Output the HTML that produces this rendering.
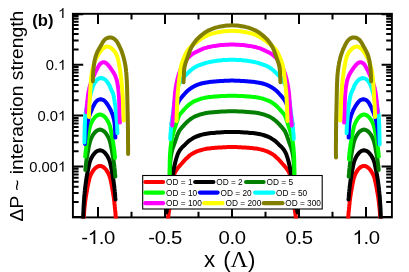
<!DOCTYPE html>
<html lang="en"><head><meta charset="utf-8"><title>OD chart</title>
<style>
html,body{margin:0;padding:0;background:#fff;}
body{width:409px;height:272px;overflow:hidden;}
svg{display:block;}
text{font-family:"Liberation Sans",sans-serif;fill:#000;}
.ser{font-family:"Liberation Serif",serif;}
</style></head><body>
<svg width="409" height="272" viewBox="0 0 409 272">
<rect x="0" y="0" width="409" height="272" fill="#fff"/>
<defs><clipPath id="cp"><rect x="71.9" y="12.8" width="321" height="205.7"/></clipPath></defs>
<g stroke="#000" stroke-width="1.9" fill="none" stroke-linecap="butt">
<rect x="72.9" y="13.8" width="319" height="203.6"/>
<path stroke-width="2" d="M98 13.8 v10.3M98 217.4 v-10.3M131.5 13.8 v5.7M131.5 217.4 v-5.7M165 13.8 v10.3M165 217.4 v-10.3M198.5 13.8 v5.7M198.5 217.4 v-5.7M232 13.8 v10.3M232 217.4 v-10.3M265.5 13.8 v5.7M265.5 217.4 v-5.7M299 13.8 v10.3M299 217.4 v-10.3M332.5 13.8 v5.7M332.5 217.4 v-5.7M366 13.8 v10.3M366 217.4 v-10.3M72.9 64.7 h10.3M391.9 64.7 h-10.3M72.9 49.38 h5.7M391.9 49.38 h-5.7M72.9 40.41 h5.7M391.9 40.41 h-5.7M72.9 34.06 h5.7M391.9 34.06 h-5.7M72.9 29.12 h5.7M391.9 29.12 h-5.7M72.9 25.09 h5.7M391.9 25.09 h-5.7M72.9 21.68 h5.7M391.9 21.68 h-5.7M72.9 18.73 h5.7M391.9 18.73 h-5.7M72.9 16.13 h5.7M391.9 16.13 h-5.7M72.9 115.6 h10.3M391.9 115.6 h-10.3M72.9 100.28 h5.7M391.9 100.28 h-5.7M72.9 91.31 h5.7M391.9 91.31 h-5.7M72.9 84.96 h5.7M391.9 84.96 h-5.7M72.9 80.02 h5.7M391.9 80.02 h-5.7M72.9 75.99 h5.7M391.9 75.99 h-5.7M72.9 72.58 h5.7M391.9 72.58 h-5.7M72.9 69.63 h5.7M391.9 69.63 h-5.7M72.9 67.03 h5.7M391.9 67.03 h-5.7M72.9 166.5 h10.3M391.9 166.5 h-10.3M72.9 151.18 h5.7M391.9 151.18 h-5.7M72.9 142.21 h5.7M391.9 142.21 h-5.7M72.9 135.86 h5.7M391.9 135.86 h-5.7M72.9 130.92 h5.7M391.9 130.92 h-5.7M72.9 126.89 h5.7M391.9 126.89 h-5.7M72.9 123.48 h5.7M391.9 123.48 h-5.7M72.9 120.53 h5.7M391.9 120.53 h-5.7M72.9 117.93 h5.7M391.9 117.93 h-5.7M72.9 202.08 h5.7M391.9 202.08 h-5.7M72.9 193.11 h5.7M391.9 193.11 h-5.7M72.9 186.76 h5.7M391.9 186.76 h-5.7M72.9 181.82 h5.7M391.9 181.82 h-5.7M72.9 177.79 h5.7M391.9 177.79 h-5.7M72.9 174.38 h5.7M391.9 174.38 h-5.7M72.9 171.43 h5.7M391.9 171.43 h-5.7M72.9 168.83 h5.7M391.9 168.83 h-5.7M72.9 14.25 h10.3M391.9 14.25 h-10.3M72.9 216.95 h10.3M391.9 216.95 h-10.3"/>
</g>
<g clip-path="url(#cp)" fill="none" stroke-width="4" stroke-linejoin="round" stroke-linecap="round">
<path stroke="#ff0000" d="M83.4 223.2 L83.5 221.7 L83.6 220.1 L83.6 218.6 L83.7 217.1 L83.8 215.7 L84.0 214.2 L84.1 212.7 L84.2 211.2 L84.3 209.7 L84.5 208.2 L84.6 206.7 L84.8 205.2 L84.9 203.7 L85.1 202.2 L85.3 200.7 L85.5 199.2 L85.7 197.7 L86.0 196.2 L86.2 194.7 L86.5 193.3 L86.7 191.8 L87.0 190.3 L87.2 188.8 L87.5 187.4 L87.8 185.9 L88.1 184.4 L88.4 182.9 L88.7 181.5 L89.1 180.0 L89.4 178.5 L89.8 177.1 L90.4 175.7 L91.0 174.3 L91.7 173.0 L92.5 171.7 L93.3 170.4 L94.2 169.3 L95.3 168.2 L96.4 167.2 L97.7 166.5 L99.2 166.0 L100.7 166.0 L102.1 166.4 L103.4 167.1 L104.6 168.1 L105.6 169.1 L106.5 170.3 L107.3 171.6 L108.1 172.9 L108.7 174.3 L109.3 175.6 L109.8 177.0 L110.3 178.5 L110.6 180.0 L110.9 181.4 L111.2 182.9 L111.5 184.4 L111.8 185.8 L112.1 187.3 L112.3 188.8 L112.6 190.3 L112.9 191.8 L113.1 193.2 L113.3 194.7 L113.6 196.2 L113.8 197.7 L114.0 199.2 L114.2 200.7 L114.4 202.2 L114.5 203.7 L114.7 205.2 L114.8 206.7 L115.0 208.2 L115.1 209.7 L115.3 211.2 L115.4 212.7 L115.5 214.1 L115.6 215.6 L115.7 217.1 L115.8 218.6 L115.9 220.1 L115.9 221.7 L116.0 223.2 M167.7 223.0 L167.8 221.5 L167.9 220.0 L168.0 218.5 L168.2 217.0 L168.4 215.5 L168.6 214.0 L168.8 212.5 L169.0 211.0 L169.3 209.5 L169.5 208.0 L169.8 206.6 L170.1 205.1 L170.3 203.6 L170.5 202.1 L170.8 200.6 L171.0 199.1 L171.2 197.6 L171.4 196.1 L171.6 194.6 L171.7 193.1 L171.9 191.6 L172.0 190.1 L172.1 188.6 L172.2 187.1 L172.3 185.6 L172.4 184.1 L172.5 182.6 L172.6 181.1 L172.9 179.6 L173.1 178.1 L173.5 176.6 L173.9 175.2 L174.4 173.8 L175.0 172.4 L175.7 171.1 L176.5 169.8 L177.4 168.6 L178.3 167.4 L179.3 166.2 L180.3 165.1 L181.3 164.0 L182.3 162.9 L183.3 161.7 L184.3 160.6 L185.3 159.5 L186.4 158.4 L187.5 157.4 L188.6 156.4 L189.8 155.4 L191.0 154.6 L192.3 153.7 L193.6 153.0 L194.9 152.3 L196.3 151.7 L197.7 151.1 L199.1 150.6 L200.6 150.2 L202.0 149.8 L203.5 149.4 L205.0 149.1 L206.4 148.8 L207.9 148.6 L209.4 148.4 L210.9 148.2 L212.4 148.1 L213.9 148.0 L215.4 147.8 L216.9 147.7 L218.4 147.6 L219.9 147.5 L221.5 147.4 L223.0 147.3 L224.5 147.2 L226.0 147.2 L227.5 147.1 L229.0 147.1 L230.5 147.0 L232.0 147.0 L233.5 147.0 L235.0 147.1 L236.5 147.1 L238.0 147.2 L239.5 147.2 L241.0 147.3 L242.5 147.4 L244.1 147.5 L245.6 147.6 L247.1 147.7 L248.6 147.8 L250.1 148.0 L251.6 148.1 L253.1 148.2 L254.6 148.4 L256.1 148.6 L257.6 148.8 L259.0 149.1 L260.5 149.4 L262.0 149.8 L263.4 150.2 L264.9 150.6 L266.3 151.1 L267.7 151.7 L269.1 152.3 L270.4 153.0 L271.7 153.7 L273.0 154.6 L274.2 155.4 L275.4 156.4 L276.5 157.4 L277.6 158.4 L278.7 159.5 L279.7 160.6 L280.7 161.7 L281.7 162.9 L282.7 164.0 L283.7 165.1 L284.7 166.2 L285.7 167.4 L286.6 168.6 L287.5 169.8 L288.3 171.1 L289.0 172.4 L289.6 173.8 L290.1 175.2 L290.5 176.6 L290.9 178.1 L291.1 179.6 L291.4 181.1 L291.5 182.6 L291.6 184.1 L291.7 185.6 L291.8 187.1 L291.9 188.6 L292.0 190.1 L292.1 191.6 L292.3 193.1 L292.4 194.6 L292.6 196.1 L292.8 197.6 L293.0 199.1 L293.2 200.6 L293.5 202.1 L293.7 203.6 L293.9 205.1 L294.2 206.6 L294.5 208.0 L294.7 209.5 L295.0 211.0 L295.2 212.5 L295.4 214.0 L295.6 215.5 L295.8 217.0 L296.0 218.5 L296.1 220.0 L296.2 221.5 L296.3 223.0 M348.0 223.2 L348.1 221.7 L348.1 220.1 L348.2 218.6 L348.3 217.1 L348.4 215.6 L348.5 214.1 L348.6 212.7 L348.7 211.2 L348.9 209.7 L349.0 208.2 L349.2 206.7 L349.3 205.2 L349.5 203.7 L349.6 202.2 L349.8 200.7 L350.0 199.2 L350.2 197.7 L350.4 196.2 L350.7 194.7 L350.9 193.2 L351.1 191.8 L351.4 190.3 L351.7 188.8 L351.9 187.3 L352.2 185.8 L352.5 184.4 L352.8 182.9 L353.1 181.4 L353.4 180.0 L353.7 178.5 L354.2 177.0 L354.7 175.6 L355.3 174.3 L355.9 172.9 L356.7 171.6 L357.5 170.3 L358.4 169.1 L359.4 168.1 L360.6 167.1 L361.9 166.4 L363.3 166.0 L364.8 166.0 L366.3 166.5 L367.6 167.2 L368.7 168.2 L369.8 169.3 L370.7 170.4 L371.5 171.7 L372.3 173.0 L373.0 174.3 L373.6 175.7 L374.2 177.1 L374.6 178.5 L374.9 180.0 L375.3 181.5 L375.6 182.9 L375.9 184.4 L376.2 185.9 L376.5 187.4 L376.8 188.8 L377.0 190.3 L377.3 191.8 L377.5 193.3 L377.8 194.7 L378.0 196.2 L378.3 197.7 L378.5 199.2 L378.7 200.7 L378.9 202.2 L379.1 203.7 L379.2 205.2 L379.4 206.7 L379.5 208.2 L379.7 209.7 L379.8 211.2 L379.9 212.7 L380.0 214.2 L380.2 215.7 L380.3 217.1 L380.4 218.6 L380.4 220.1 L380.5 221.7 L380.6 223.2"/>
<path stroke="#000000" d="M83.0 223.4 L83.1 222.1 L83.1 220.6 L83.1 219.1 L83.2 217.6 L83.2 216.0 L83.3 214.5 L83.3 213.0 L83.4 211.5 L83.5 210.0 L83.5 208.5 L83.6 207.0 L83.7 205.5 L83.8 204.0 L83.9 202.5 L84.0 201.0 L84.1 199.5 L84.2 198.0 L84.3 196.5 L84.4 195.0 L84.6 193.5 L84.7 192.0 L84.9 190.5 L85.0 189.0 L85.2 187.5 L85.4 186.0 L85.6 184.5 L85.8 183.0 L86.0 181.5 L86.2 180.0 L86.4 178.5 L86.7 177.0 L86.9 175.5 L87.2 174.0 L87.5 172.6 L87.8 171.1 L88.1 169.6 L88.4 168.1 L88.7 166.6 L89.0 165.2 L89.3 163.7 L89.7 162.2 L90.2 160.8 L90.7 159.4 L91.4 158.0 L92.1 156.7 L92.9 155.4 L93.8 154.2 L94.7 153.1 L95.8 152.0 L97.0 151.1 L98.4 150.6 L99.9 150.3 L101.4 150.5 L102.8 151.1 L104.0 152.0 L105.1 153.0 L106.0 154.2 L106.9 155.4 L107.7 156.7 L108.4 158.1 L109.0 159.4 L109.6 160.8 L110.0 162.3 L110.4 163.7 L110.7 165.2 L111.0 166.7 L111.3 168.2 L111.6 169.6 L111.9 171.1 L112.1 172.6 L112.4 174.1 L112.7 175.6 L112.9 177.1 L113.1 178.6 L113.4 180.1 L113.6 181.5 L113.8 183.0 L114.0 184.5 L114.2 186.0 L114.4 187.5 L114.5 189.0 L114.7 190.5 L114.8 192.0 L115.0 193.5 L115.1 195.0 L115.2 196.5 L115.3 198.0 L115.5 199.5 M166.4 212.4 L166.7 210.9 L166.9 209.4 L167.2 208.0 L167.4 206.5 L167.6 205.0 L167.8 203.5 L168.1 202.0 L168.3 200.5 L168.5 199.0 L168.7 197.6 L169.0 196.1 L169.2 194.6 L169.4 193.1 L169.7 191.6 L170.0 190.2 L170.2 188.7 L170.5 187.2 L170.8 185.7 L171.1 184.2 L171.4 182.8 L171.7 181.3 L171.9 179.8 L172.2 178.4 L172.5 176.9 L172.8 175.4 L173.0 173.9 L173.3 172.4 L173.5 171.0 L173.7 169.5 L174.0 168.0 L174.3 166.5 L174.6 165.0 L175.0 163.6 L175.3 162.1 L175.7 160.7 L176.1 159.2 L176.5 157.8 L177.0 156.4 L177.5 154.9 L178.0 153.6 L178.7 152.2 L179.4 150.9 L180.3 149.6 L181.2 148.5 L182.2 147.3 L183.3 146.3 L184.4 145.3 L185.5 144.2 L186.5 143.2 L187.6 142.1 L188.7 141.1 L189.9 140.2 L191.2 139.4 L192.4 138.6 L193.7 137.8 L195.1 137.1 L196.4 136.5 L197.8 136.0 L199.3 135.5 L200.7 135.0 L202.1 134.6 L203.6 134.3 L205.1 134.0 L206.5 133.7 L208.0 133.5 L209.5 133.3 L211.0 133.1 L212.5 133.0 L214.0 132.9 L215.5 132.7 L217.0 132.6 L218.5 132.5 L220.0 132.4 L221.5 132.3 L223.0 132.2 L224.5 132.1 L226.0 132.1 L227.5 132.0 L229.0 132.0 L230.5 131.9 L232.0 131.9 L233.5 131.9 L235.0 132.0 L236.5 132.0 L238.0 132.1 L239.5 132.1 L241.0 132.2 L242.5 132.3 L244.0 132.4 L245.5 132.5 L247.0 132.6 L248.5 132.7 L250.0 132.9 L251.5 133.0 L253.0 133.1 L254.5 133.3 L256.0 133.5 L257.5 133.7 L258.9 134.0 L260.4 134.3 L261.9 134.6 L263.3 135.0 L264.7 135.5 L266.2 136.0 L267.6 136.5 L268.9 137.1 L270.3 137.8 L271.6 138.6 L272.8 139.4 L274.1 140.2 L275.3 141.1 L276.4 142.1 L277.5 143.2 L278.5 144.2 L279.6 145.3 L280.7 146.3 L281.8 147.3 L282.8 148.5 L283.7 149.6 L284.6 150.9 L285.3 152.2 L286.0 153.6 L286.5 154.9 L287.0 156.4 L287.5 157.8 L287.9 159.2 L288.3 160.7 L288.7 162.1 L289.0 163.6 L289.4 165.0 L289.7 166.5 L290.0 168.0 L290.3 169.5 L290.5 171.0 L290.7 172.4 L291.0 173.9 L291.2 175.4 L291.5 176.9 L291.8 178.4 L292.1 179.8 L292.3 181.3 L292.6 182.8 L292.9 184.2 L293.2 185.7 L293.5 187.2 L293.8 188.7 L294.0 190.2 L294.3 191.6 L294.6 193.1 L294.8 194.6 L295.0 196.1 L295.3 197.6 L295.5 199.0 L295.7 200.5 L295.9 202.0 L296.2 203.5 L296.4 205.0 L296.6 206.5 L296.8 208.0 L297.1 209.4 L297.3 210.9 L297.6 212.4 M348.5 199.5 L348.7 198.0 L348.8 196.5 L348.9 195.0 L349.0 193.5 L349.2 192.0 L349.3 190.5 L349.5 189.0 L349.6 187.5 L349.8 186.0 L350.0 184.5 L350.2 183.0 L350.4 181.5 L350.6 180.1 L350.9 178.6 L351.1 177.1 L351.3 175.6 L351.6 174.1 L351.9 172.6 L352.1 171.1 L352.4 169.6 L352.7 168.2 L353.0 166.7 L353.3 165.2 L353.6 163.7 L354.0 162.3 L354.4 160.8 L355.0 159.4 L355.6 158.1 L356.3 156.7 L357.1 155.4 L358.0 154.2 L358.9 153.0 L360.0 152.0 L361.2 151.1 L362.6 150.5 L364.1 150.3 L365.6 150.6 L367.0 151.1 L368.2 152.0 L369.3 153.1 L370.2 154.2 L371.1 155.4 L371.9 156.7 L372.6 158.0 L373.3 159.4 L373.8 160.8 L374.3 162.2 L374.7 163.7 L375.0 165.2 L375.3 166.6 L375.6 168.1 L375.9 169.6 L376.2 171.1 L376.5 172.6 L376.8 174.0 L377.1 175.5 L377.3 177.0 L377.6 178.5 L377.8 180.0 L378.0 181.5 L378.2 183.0 L378.4 184.5 L378.6 186.0 L378.8 187.5 L379.0 189.0 L379.1 190.5 L379.3 192.0 L379.4 193.5 L379.6 195.0 L379.7 196.5 L379.8 198.0 L379.9 199.5 L380.0 201.0 L380.1 202.5 L380.2 204.0 L380.3 205.5 L380.4 207.0 L380.5 208.5 L380.5 210.0 L380.6 211.5 L380.7 213.0 L380.7 214.5 L380.8 216.0 L380.8 217.6 L380.9 219.1 L380.9 220.6 L380.9 222.1 L381.0 223.4"/>
<path stroke="#007f00" d="M85.3 169.9 L85.5 168.3 L85.6 166.8 L85.8 165.3 L86.0 163.8 L86.2 162.3 L86.4 160.8 L86.6 159.3 L86.9 157.8 L87.1 156.3 L87.4 154.8 L87.6 153.3 L87.9 151.9 L88.2 150.4 L88.4 148.9 L88.7 147.4 L89.0 145.9 L89.3 144.4 L89.7 142.9 L90.0 141.5 L90.5 140.0 L91.1 138.6 L91.7 137.2 L92.4 135.9 L93.2 134.6 L94.1 133.4 L95.1 132.2 L96.2 131.2 L97.4 130.3 L98.8 129.8 L100.3 129.6 L101.8 130.0 L103.2 130.7 L104.3 131.6 L105.4 132.7 L106.3 133.9 L107.1 135.2 L107.9 136.5 L108.6 137.8 L109.2 139.2 L109.7 140.7 L110.1 142.1 L110.5 143.6 L110.8 145.1 L111.1 146.5 L111.4 148.0 L111.7 149.5 L112.0 151.0 L112.2 152.5 L112.5 154.0 L112.8 155.5 L113.0 157.0 L113.2 158.5 L113.5 160.0 L113.7 161.5 L113.9 163.0 L114.1 164.5 L114.3 166.0 L114.4 167.5 L114.6 169.0 L114.8 170.5 L114.9 172.0 L115.0 173.5 L115.2 175.0 L115.3 176.6 M169.7 180.0 L169.7 178.5 L169.8 177.0 L169.8 175.5 L169.8 174.0 L169.9 172.5 L169.9 171.0 L170.0 169.5 L170.0 168.0 L170.1 166.5 L170.1 165.0 L170.2 163.5 L170.3 162.0 L170.4 160.5 L170.6 159.0 L170.7 157.5 L170.9 156.0 L171.2 154.5 L171.5 153.0 L171.8 151.6 L172.2 150.1 L172.6 148.7 L173.1 147.2 L173.6 145.8 L174.1 144.4 L174.6 143.0 L175.1 141.6 L175.6 140.2 L176.1 138.7 L176.6 137.3 L177.0 135.9 L177.6 134.5 L178.2 133.1 L178.8 131.7 L179.6 130.5 L180.5 129.2 L181.4 128.1 L182.4 126.9 L183.4 125.8 L184.4 124.7 L185.4 123.6 L186.5 122.5 L187.6 121.5 L188.7 120.5 L189.9 119.6 L191.1 118.7 L192.4 117.9 L193.7 117.1 L195.0 116.4 L196.4 115.8 L197.8 115.3 L199.2 114.8 L200.7 114.4 L202.1 114.0 L203.6 113.6 L205.0 113.3 L206.5 113.0 L208.0 112.8 L209.5 112.6 L211.0 112.4 L212.5 112.3 L214.0 112.2 L215.5 112.0 L217.0 111.9 L218.5 111.8 L220.0 111.7 L221.5 111.6 L223.0 111.5 L224.5 111.4 L226.0 111.4 L227.5 111.3 L229.0 111.3 L230.5 111.2 L232.0 111.2 L233.5 111.2 L235.0 111.3 L236.5 111.3 L238.0 111.4 L239.5 111.4 L241.0 111.5 L242.5 111.6 L244.0 111.7 L245.5 111.8 L247.0 111.9 L248.5 112.0 L250.0 112.2 L251.5 112.3 L253.0 112.4 L254.5 112.6 L256.0 112.8 L257.5 113.0 L259.0 113.3 L260.4 113.6 L261.9 114.0 L263.3 114.4 L264.8 114.8 L266.2 115.3 L267.6 115.8 L269.0 116.4 L270.3 117.1 L271.6 117.9 L272.9 118.7 L274.1 119.6 L275.3 120.5 L276.4 121.5 L277.5 122.5 L278.6 123.6 L279.6 124.7 L280.6 125.8 L281.6 126.9 L282.6 128.1 L283.5 129.2 L284.4 130.5 L285.2 131.7 L285.8 133.1 L286.4 134.5 L287.0 135.9 L287.4 137.3 L287.9 138.7 L288.4 140.2 L288.9 141.6 L289.4 143.0 L289.9 144.4 L290.4 145.8 L290.9 147.2 L291.4 148.7 L291.8 150.1 L292.2 151.6 L292.5 153.0 L292.8 154.5 L293.1 156.0 L293.3 157.5 L293.4 159.0 L293.6 160.5 L293.7 162.0 L293.8 163.5 L293.9 165.0 L293.9 166.5 L294.0 168.0 L294.0 169.5 L294.1 171.0 L294.1 172.5 L294.2 174.0 L294.2 175.5 L294.2 177.0 L294.3 178.5 L294.3 180.0 M348.7 176.6 L348.8 175.0 L349.0 173.5 L349.1 172.0 L349.2 170.5 L349.4 169.0 L349.6 167.5 L349.7 166.0 L349.9 164.5 L350.1 163.0 L350.3 161.5 L350.5 160.0 L350.8 158.5 L351.0 157.0 L351.2 155.5 L351.5 154.0 L351.8 152.5 L352.0 151.0 L352.3 149.5 L352.6 148.0 L352.9 146.5 L353.2 145.1 L353.5 143.6 L353.9 142.1 L354.3 140.7 L354.8 139.2 L355.4 137.8 L356.1 136.5 L356.9 135.2 L357.7 133.9 L358.6 132.7 L359.7 131.6 L360.8 130.7 L362.2 130.0 L363.7 129.6 L365.2 129.8 L366.6 130.3 L367.8 131.2 L368.9 132.2 L369.9 133.4 L370.8 134.6 L371.6 135.9 L372.3 137.2 L372.9 138.6 L373.5 140.0 L374.0 141.5 L374.3 142.9 L374.7 144.4 L375.0 145.9 L375.3 147.4 L375.6 148.9 L375.8 150.4 L376.1 151.9 L376.4 153.3 L376.6 154.8 L376.9 156.3 L377.1 157.8 L377.4 159.3 L377.6 160.8 L377.8 162.3 L378.0 163.8 L378.2 165.3 L378.4 166.8 L378.5 168.3 L378.7 169.9"/>
<path stroke="#00ff00" d="M85.1 156.5 L85.3 155.0 L85.4 153.5 L85.6 152.0 L85.8 150.5 L86.0 149.0 L86.2 147.5 L86.4 146.0 L86.6 144.5 L86.8 143.0 L87.1 141.5 L87.3 140.0 L87.6 138.5 L87.8 137.0 L88.1 135.6 L88.4 134.1 L88.7 132.6 L89.0 131.1 L89.3 129.6 L89.6 128.2 L90.0 126.7 L90.4 125.2 L90.9 123.8 L91.6 122.5 L92.3 121.1 L93.0 119.8 L93.9 118.6 L94.8 117.4 L95.9 116.3 L97.1 115.4 L98.5 114.8 L99.9 114.5 L101.4 114.8 L102.8 115.3 L104.0 116.2 L105.1 117.3 L106.1 118.5 L106.9 119.7 L107.7 121.0 L108.4 122.3 L109.0 123.7 L109.6 125.1 L110.0 126.6 L110.4 128.0 L110.7 129.5 L111.0 131.0 L111.3 132.5 L111.6 133.9 L111.9 135.4 L112.1 136.9 L112.4 138.4 L112.7 139.9 L112.9 141.4 L113.2 142.9 L113.4 144.4 L113.6 145.9 L113.8 147.3 L114.0 148.8 L114.2 150.3 L114.4 151.8 L114.5 153.3 L114.7 154.8 L114.9 156.3 L115.0 157.9 M169.4 190.0 L169.4 188.5 L169.4 187.0 L169.5 185.5 L169.5 184.0 L169.5 182.5 L169.5 181.0 L169.5 179.5 L169.6 178.0 L169.6 176.5 L169.6 175.0 L169.6 173.5 L169.6 172.0 L169.6 170.5 L169.6 169.0 L169.7 167.5 L169.7 166.0 L169.7 164.5 L169.7 163.0 L169.8 161.5 L169.8 160.0 L169.9 158.5 L169.9 157.0 L170.0 155.5 L170.1 154.0 L170.2 152.5 L170.3 151.0 L170.4 149.5 L170.5 148.0 L170.7 146.5 L170.9 145.0 L171.1 143.5 L171.3 142.0 L171.5 140.6 L171.8 139.1 L172.1 137.6 L172.4 136.1 L172.8 134.7 L173.2 133.2 L173.6 131.8 L174.1 130.4 L174.5 128.9 L175.0 127.5 L175.5 126.1 L175.9 124.7 L176.4 123.2 L176.9 121.8 L177.4 120.4 L177.8 119.0 L178.3 117.6 L178.9 116.2 L179.6 114.8 L180.5 113.6 L181.5 112.5 L182.5 111.4 L183.5 110.2 L184.5 109.1 L185.5 108.0 L186.5 106.9 L187.6 105.9 L188.8 104.9 L189.9 104.0 L191.2 103.2 L192.4 102.3 L193.7 101.6 L195.1 100.9 L196.5 100.3 L197.9 99.8 L199.3 99.3 L200.7 98.8 L202.2 98.4 L203.6 98.1 L205.1 97.8 L206.6 97.5 L208.0 97.3 L209.5 97.1 L211.0 96.9 L212.5 96.8 L214.0 96.6 L215.5 96.5 L217.0 96.4 L218.5 96.3 L220.0 96.2 L221.5 96.1 L223.0 96.0 L224.5 95.9 L226.0 95.9 L227.5 95.8 L229.0 95.8 L230.5 95.7 L232.0 95.7 L233.5 95.7 L235.0 95.8 L236.5 95.8 L238.0 95.9 L239.5 95.9 L241.0 96.0 L242.5 96.1 L244.0 96.2 L245.5 96.3 L247.0 96.4 L248.5 96.5 L250.0 96.6 L251.5 96.8 L253.0 96.9 L254.5 97.1 L256.0 97.3 L257.4 97.5 L258.9 97.8 L260.4 98.1 L261.8 98.4 L263.3 98.8 L264.7 99.3 L266.1 99.8 L267.5 100.3 L268.9 100.9 L270.3 101.6 L271.6 102.3 L272.8 103.2 L274.1 104.0 L275.2 104.9 L276.4 105.9 L277.5 106.9 L278.5 108.0 L279.5 109.1 L280.5 110.2 L281.5 111.4 L282.5 112.5 L283.5 113.6 L284.4 114.8 L285.1 116.2 L285.7 117.6 L286.2 119.0 L286.6 120.4 L287.1 121.8 L287.6 123.2 L288.1 124.7 L288.5 126.1 L289.0 127.5 L289.5 128.9 L289.9 130.4 L290.4 131.8 L290.8 133.2 L291.2 134.7 L291.6 136.1 L291.9 137.6 L292.2 139.1 L292.5 140.6 L292.7 142.0 L292.9 143.5 L293.1 145.0 L293.3 146.5 L293.5 148.0 L293.6 149.5 L293.7 151.0 L293.8 152.5 L293.9 154.0 L294.0 155.5 L294.1 157.0 L294.1 158.5 L294.2 160.0 L294.2 161.5 L294.3 163.0 L294.3 164.5 L294.3 166.0 L294.3 167.5 L294.4 169.0 L294.4 170.5 L294.4 172.0 L294.4 173.5 L294.4 175.0 L294.4 176.5 L294.4 178.0 L294.5 179.5 L294.5 181.0 L294.5 182.5 L294.5 184.0 L294.5 185.5 L294.6 187.0 L294.6 188.5 L294.6 190.0 M349.1 159.5 L349.0 157.9 L349.1 156.4 L349.3 154.9 L349.4 153.4 L349.6 151.9 L349.8 150.4 L350.0 148.9 L350.2 147.4 L350.4 145.9 L350.6 144.4 L350.8 142.9 L351.1 141.5 L351.3 140.0 L351.6 138.5 L351.8 137.0 L352.1 135.5 L352.4 134.0 L352.7 132.5 L353.0 131.0 L353.3 129.6 L353.6 128.1 L354.0 126.6 L354.4 125.2 L355.0 123.8 L355.6 122.4 L356.3 121.1 L357.1 119.8 L357.9 118.5 L358.9 117.3 L359.9 116.3 L361.1 115.4 L362.5 114.8 L364.0 114.5 L365.5 114.8 L366.9 115.4 L368.1 116.3 L369.2 117.4 L370.1 118.5 L371.0 119.8 L371.7 121.1 L372.4 122.4 L373.1 123.8 L373.6 125.2 L374.0 126.7 L374.4 128.1 L374.7 129.6 L375.0 131.1 L375.3 132.6 L375.6 134.0 L375.9 135.5 L376.2 137.0 L376.4 138.5 L376.7 140.0 L376.9 141.5 L377.2 143.0 L377.4 144.5 L377.6 146.0 L377.8 147.5 L378.0 149.0 L378.2 150.5 L378.4 152.0 L378.6 153.5 L378.7 155.0 L378.9 156.5"/>
<path stroke="#0000ff" d="M84.9 143.9 L85.0 142.4 L85.1 140.9 L85.3 139.4 L85.4 137.9 L85.5 136.4 L85.7 134.9 L85.8 133.4 L86.0 131.9 L86.2 130.4 L86.4 128.9 L86.6 127.5 L86.8 126.0 L87.1 124.5 L87.4 123.0 L87.7 121.5 L88.1 120.1 L88.5 118.6 L88.9 117.2 L89.4 115.8 L89.9 114.4 L90.4 113.0 L91.0 111.6 L91.6 110.2 L92.1 108.8 L92.7 107.4 L93.4 106.0 L94.1 104.7 L94.8 103.4 L95.6 102.2 L96.6 101.0 L97.8 100.1 L99.2 99.5 L100.7 99.3 L102.1 99.5 L103.5 100.1 L104.7 101.0 L105.7 102.1 L106.6 103.3 L107.5 104.5 L108.3 105.8 L109.1 107.1 L109.8 108.4 L110.5 109.7 L111.2 111.1 L111.7 112.5 L112.3 113.9 L112.8 115.3 L113.2 116.7 L113.6 118.2 L114.0 119.6 L114.2 121.1 L114.5 122.6 L114.7 124.1 L114.8 125.6 L114.9 127.1 L115.0 128.6 L115.1 130.1 L115.2 131.6 L115.2 133.1 L115.3 134.6 L115.3 136.1 L115.4 137.6 M171.6 123.8 L171.9 122.4 L172.2 120.9 L172.5 119.4 L172.9 118.0 L173.2 116.5 L173.6 115.0 L174.0 113.6 L174.4 112.2 L174.9 110.7 L175.3 109.3 L175.9 107.9 L176.4 106.5 L177.0 105.1 L177.6 103.7 L178.2 102.4 L178.9 101.1 L179.7 99.8 L180.6 98.5 L181.5 97.4 L182.5 96.2 L183.5 95.1 L184.5 94.0 L185.5 92.9 L186.5 91.8 L187.6 90.8 L188.8 89.8 L190.0 88.9 L191.2 88.0 L192.5 87.2 L193.8 86.5 L195.1 85.8 L196.5 85.2 L197.9 84.7 L199.3 84.2 L200.7 83.7 L202.2 83.3 L203.6 83.0 L205.1 82.7 L206.6 82.4 L208.1 82.2 L209.5 82.0 L211.0 81.8 L212.5 81.7 L214.0 81.5 L215.5 81.4 L217.0 81.3 L218.5 81.2 L220.0 81.1 L221.5 81.0 L223.0 80.9 L224.5 80.8 L226.0 80.8 L227.5 80.7 L229.0 80.7 L230.5 80.6 L232.0 80.6 L233.5 80.6 L235.0 80.7 L236.5 80.7 L238.0 80.8 L239.5 80.8 L241.0 80.9 L242.5 81.0 L244.0 81.1 L245.5 81.2 L247.0 81.3 L248.5 81.4 L250.0 81.5 L251.5 81.7 L253.0 81.8 L254.5 82.0 L255.9 82.2 L257.4 82.4 L258.9 82.7 L260.4 83.0 L261.8 83.3 L263.3 83.7 L264.7 84.2 L266.1 84.7 L267.5 85.2 L268.9 85.8 L270.2 86.5 L271.5 87.2 L272.8 88.0 L274.0 88.9 L275.2 89.8 L276.4 90.8 L277.5 91.8 L278.5 92.9 L279.5 94.0 L280.5 95.1 L281.5 96.2 L282.5 97.4 L283.4 98.5 L284.3 99.8 L285.1 101.1 L285.8 102.4 L286.4 103.7 L287.0 105.1 L287.6 106.5 L288.1 107.9 L288.7 109.3 L289.1 110.7 L289.6 112.2 L290.0 113.6 L290.4 115.0 L290.8 116.5 L291.1 118.0 L291.5 119.4 L291.8 120.9 L292.1 122.4 L292.4 123.8 M348.6 137.6 L348.7 136.1 L348.7 134.6 L348.8 133.1 L348.8 131.6 L348.9 130.1 L349.0 128.6 L349.1 127.1 L349.2 125.6 L349.3 124.1 L349.5 122.6 L349.8 121.1 L350.0 119.6 L350.4 118.2 L350.8 116.7 L351.2 115.3 L351.7 113.9 L352.3 112.5 L352.8 111.1 L353.5 109.7 L354.2 108.4 L354.9 107.1 L355.7 105.8 L356.5 104.5 L357.4 103.3 L358.3 102.1 L359.3 101.0 L360.5 100.1 L361.9 99.5 L363.3 99.3 L364.8 99.5 L366.2 100.1 L367.4 101.0 L368.4 102.2 L369.2 103.4 L369.9 104.7 L370.6 106.0 L371.3 107.4 L371.9 108.8 L372.4 110.2 L373.0 111.6 L373.6 113.0 L374.1 114.4 L374.6 115.8 L375.1 117.2 L375.5 118.6 L375.9 120.1 L376.3 121.5 L376.6 123.0 L376.9 124.5 L377.2 126.0 L377.4 127.5 L377.6 128.9 L377.8 130.4 L378.0 131.9 L378.2 133.4 L378.3 134.9 L378.5 136.4 L378.6 137.9 L378.7 139.4 L378.9 140.9 L379.0 142.4 L379.1 143.9"/>
<path stroke="#00ffff" d="M84.4 142.6 L84.4 141.1 L84.5 139.6 L84.5 138.1 L84.5 136.6 L84.6 135.0 L84.6 133.5 L84.6 132.0 L84.7 130.5 L84.7 129.0 L84.8 127.5 L84.8 126.0 L84.8 124.5 L84.9 122.9 L85.0 121.4 L85.0 119.9 L85.1 118.4 L85.2 116.9 L85.4 115.4 L85.5 113.9 L85.7 112.4 L85.9 110.9 L86.2 109.4 L86.6 107.9 L87.0 106.5 L87.4 105.0 L87.9 103.6 L88.4 102.2 L88.9 100.8 L89.4 99.3 L89.7 97.8 L90.1 96.4 L90.5 94.9 L90.8 93.4 L91.2 92.0 L91.6 90.5 L92.1 89.1 L92.5 87.6 L93.0 86.2 L93.6 84.8 L94.3 83.5 L95.1 82.2 L96.0 81.0 L97.0 79.9 L98.2 78.9 L99.6 78.3 L101.1 78.1 L102.6 78.3 L104.0 78.9 L105.2 79.7 L106.3 80.8 L107.3 82.0 L108.1 83.2 L108.9 84.5 L109.6 85.8 L110.2 87.2 L110.8 88.6 L111.4 90.0 L112.0 91.4 L112.7 92.7 L113.2 94.2 L113.6 95.6 L113.9 97.1 L114.1 98.6 L114.4 100.1 L114.6 101.6 L114.8 103.1 L115.1 104.6 L115.3 106.1 L115.5 107.6 L115.6 109.1 L115.8 110.6 L116.0 112.1 L116.1 113.6 L116.2 115.1 L116.4 116.6 L116.5 118.1 L116.6 119.6 L116.8 121.1 L116.9 122.6 L117.0 124.1 L117.1 125.6 L117.2 127.2 L117.2 128.7 L117.3 130.2 L117.3 131.7 L117.4 133.2 M170.2 139.0 L170.3 137.5 L170.4 136.0 L170.5 134.5 L170.6 133.0 L170.8 131.5 L170.9 130.0 L171.0 128.5 L171.2 127.0 L171.3 125.5 L171.5 124.0 L171.7 122.5 L171.9 121.0 L172.1 119.5 L172.3 118.0 L172.5 116.5 L172.7 115.1 L172.9 113.6 L173.1 112.1 L173.3 110.6 L173.5 109.1 L173.7 107.6 L173.9 106.1 L174.1 104.6 L174.2 103.1 L174.4 101.6 L174.7 100.1 L174.9 98.6 L175.1 97.2 L175.4 95.7 L175.6 94.2 L175.9 92.7 L176.3 91.3 L176.7 89.8 L177.2 88.4 L177.7 87.0 L178.3 85.6 L179.0 84.3 L179.7 82.9 L180.5 81.7 L181.4 80.4 L182.2 79.2 L183.2 78.0 L184.1 76.9 L185.1 75.7 L186.2 74.6 L187.2 73.6 L188.3 72.5 L189.4 71.5 L190.5 70.5 L191.7 69.5 L192.9 68.6 L194.1 67.7 L195.4 67.0 L196.7 66.3 L198.1 65.6 L199.5 65.1 L200.9 64.6 L202.3 64.1 L203.8 63.6 L205.2 63.1 L206.6 62.7 L208.1 62.4 L209.6 62.0 L211.0 61.7 L212.5 61.4 L214.0 61.2 L215.5 61.0 L217.0 60.8 L218.5 60.6 L220.0 60.4 L221.5 60.3 L223.0 60.1 L224.5 60.0 L226.0 59.9 L227.5 59.9 L229.0 59.8 L230.5 59.8 L232.0 59.8 L233.5 59.8 L235.0 59.8 L236.5 59.9 L238.0 59.9 L239.5 60.0 L241.0 60.1 L242.5 60.3 L244.0 60.4 L245.5 60.6 L247.0 60.8 L248.5 61.0 L250.0 61.2 L251.5 61.4 L253.0 61.7 L254.4 62.0 L255.9 62.4 L257.4 62.7 L258.8 63.1 L260.2 63.6 L261.7 64.1 L263.1 64.6 L264.5 65.1 L265.9 65.6 L267.3 66.3 L268.6 67.0 L269.9 67.7 L271.1 68.6 L272.3 69.5 L273.5 70.5 L274.6 71.5 L275.7 72.5 L276.8 73.6 L277.8 74.6 L278.9 75.7 L279.9 76.9 L280.8 78.0 L281.8 79.2 L282.6 80.4 L283.5 81.7 L284.3 82.9 L285.0 84.3 L285.7 85.6 L286.3 87.0 L286.8 88.4 L287.3 89.8 L287.7 91.3 L288.1 92.7 L288.4 94.2 L288.6 95.7 L288.9 97.2 L289.1 98.6 L289.3 100.1 L289.6 101.6 L289.8 103.1 L289.9 104.6 L290.1 106.1 L290.3 107.6 L290.5 109.1 L290.7 110.6 L290.9 112.1 L291.1 113.6 L291.3 115.1 L291.5 116.5 L291.7 118.0 L291.9 119.5 L292.1 121.0 L292.3 122.5 L292.5 124.0 L292.7 125.5 L292.8 127.0 L293.0 128.5 L293.1 130.0 L293.2 131.5 L293.4 133.0 L293.5 134.5 L293.6 136.0 L293.7 137.5 L293.8 139.0 M346.6 133.2 L346.7 131.7 L346.7 130.2 L346.8 128.7 L346.8 127.1 L346.9 125.6 L347.0 124.1 L347.1 122.6 L347.2 121.1 L347.4 119.6 L347.5 118.1 L347.6 116.6 L347.8 115.1 L347.9 113.5 L348.0 112.0 L348.2 110.5 L348.4 109.0 L348.5 107.5 L348.7 106.0 L348.9 104.5 L349.2 103.0 L349.4 101.5 L349.6 100.0 L349.9 98.5 L350.2 97.0 L350.5 95.5 L350.9 94.1 L351.4 92.7 L352.0 91.3 L352.7 89.9 L353.3 88.5 L353.8 87.1 L354.4 85.7 L355.1 84.4 L355.9 83.1 L356.8 81.9 L357.8 80.7 L358.9 79.7 L360.1 78.8 L361.5 78.3 L363.0 78.1 L364.5 78.4 L365.9 79.0 L367.1 80.0 L368.1 81.1 L369.0 82.3 L369.8 83.6 L370.5 85.0 L371.0 86.4 L371.5 87.8 L372.0 89.2 L372.4 90.7 L372.8 92.1 L373.2 93.6 L373.6 95.1 L373.9 96.6 L374.3 98.0 L374.7 99.5 L375.2 100.9 L375.6 102.4 L376.2 103.8 L376.6 105.2 L377.1 106.7 L377.5 108.1 L377.8 109.6 L378.1 111.1 L378.3 112.6 L378.5 114.1 L378.7 115.6 L378.8 117.1 L378.9 118.6 L379.0 120.2 L379.0 121.7 L379.1 123.2 L379.2 124.7 L379.2 126.2 L379.2 127.7 L379.3 129.2 L379.3 130.8 L379.4 132.3 L379.4 133.8 L379.4 135.3 L379.5 136.8 L379.5 138.3 L379.5 139.9 L379.6 141.4 L379.6 142.9 L379.7 144.4"/>
<path stroke="#ff00ff" d="M86.3 112.2 L86.4 110.7 L86.5 109.2 L86.7 107.7 L86.8 106.2 L86.9 104.7 L87.1 103.2 L87.2 101.7 L87.4 100.2 L87.6 98.7 L87.8 97.2 L88.0 95.7 L88.2 94.2 L88.4 92.7 L88.7 91.2 L89.0 89.8 L89.3 88.3 L89.7 86.8 L90.1 85.4 L90.5 83.9 L91.0 82.5 L91.6 81.1 L92.1 79.7 L92.7 78.3 L93.3 76.9 L93.9 75.6 L94.5 74.2 L95.2 72.8 L95.8 71.4 L96.5 70.1 L97.2 68.8 L97.9 67.4 L98.6 66.1 L99.4 64.8 L100.4 63.7 L101.6 62.8 L102.9 62.2 L104.4 62.3 L105.8 62.9 L107.0 63.9 L108.0 64.9 L109.0 66.1 L109.9 67.3 L110.8 68.5 L111.7 69.7 L112.5 71.0 L113.3 72.3 L114.1 73.6 L114.8 74.9 L115.4 76.3 L115.9 77.7 L116.4 79.1 L116.8 80.6 L117.2 82.0 L117.5 83.5 L117.7 85.0 L118.0 86.5 L118.2 88.0 L118.4 89.5 L118.5 91.0 L118.7 92.5 L118.8 94.0 L118.9 95.5 L119.0 97.0 L119.1 98.5 L119.1 100.0 L119.2 101.5 L119.2 103.0 L119.3 104.5 L119.3 106.0 L119.4 107.5 L119.4 109.0 L119.5 110.5 L119.5 112.1 L119.6 113.6 L119.6 115.1 L119.7 116.6 L119.7 118.1 L119.8 119.6 L119.8 121.1 L119.9 122.6 M172.2 125.5 L172.3 124.0 L172.5 122.5 L172.6 121.0 L172.8 119.5 L172.9 118.0 L173.0 116.5 L173.2 115.0 L173.3 113.5 L173.5 112.0 L173.6 110.6 L173.8 109.1 L173.9 107.6 L174.0 106.1 L174.1 104.6 L174.2 103.1 L174.4 101.6 L174.5 100.1 L174.6 98.6 L174.7 97.1 L174.8 95.6 L175.0 94.1 L175.1 92.6 L175.3 91.1 L175.5 89.6 L175.7 88.1 L175.9 86.7 L176.2 85.2 L176.5 83.7 L176.8 82.2 L177.1 80.8 L177.4 79.3 L177.8 77.8 L178.2 76.4 L178.6 75.0 L179.1 73.5 L179.6 72.1 L180.1 70.7 L180.6 69.3 L181.2 67.9 L181.9 66.6 L182.6 65.2 L183.3 64.0 L184.1 62.7 L185.0 61.5 L185.9 60.3 L186.9 59.1 L187.9 58.0 L188.9 56.9 L190.0 55.9 L191.2 55.0 L192.4 54.1 L193.7 53.3 L195.0 52.6 L196.3 51.9 L197.7 51.2 L199.0 50.6 L200.4 49.9 L201.8 49.3 L203.2 48.7 L204.6 48.2 L206.0 47.8 L207.4 47.4 L208.9 47.0 L210.4 46.7 L211.8 46.4 L213.3 46.1 L214.8 45.9 L216.3 45.7 L217.8 45.5 L219.3 45.3 L220.8 45.1 L222.3 45.0 L223.7 44.9 L225.2 44.8 L226.7 44.7 L228.2 44.7 L229.7 44.6 L231.2 44.6 L232.8 44.6 L234.3 44.6 L235.8 44.7 L237.3 44.7 L238.8 44.8 L240.3 44.9 L241.7 45.0 L243.2 45.1 L244.7 45.3 L246.2 45.5 L247.7 45.7 L249.2 45.9 L250.7 46.1 L252.2 46.4 L253.6 46.7 L255.1 47.0 L256.6 47.4 L258.0 47.8 L259.4 48.2 L260.8 48.7 L262.2 49.3 L263.6 49.9 L265.0 50.6 L266.3 51.2 L267.7 51.9 L269.0 52.6 L270.3 53.3 L271.6 54.1 L272.8 55.0 L274.0 55.9 L275.1 56.9 L276.1 58.0 L277.1 59.1 L278.1 60.3 L279.0 61.5 L279.9 62.7 L280.7 64.0 L281.4 65.2 L282.1 66.6 L282.8 67.9 L283.4 69.3 L283.9 70.7 L284.4 72.1 L284.9 73.5 L285.4 75.0 L285.8 76.4 L286.2 77.8 L286.6 79.3 L286.9 80.8 L287.2 82.2 L287.5 83.7 L287.8 85.2 L288.1 86.7 L288.3 88.1 L288.5 89.6 L288.7 91.1 L288.9 92.6 L289.0 94.1 L289.2 95.6 L289.3 97.1 L289.4 98.6 L289.5 100.1 L289.6 101.6 L289.8 103.1 L289.9 104.6 L290.0 106.1 L290.1 107.6 L290.2 109.1 L290.4 110.6 L290.5 112.0 L290.7 113.5 L290.8 115.0 L291.0 116.5 L291.1 118.0 L291.2 119.5 L291.4 121.0 L291.5 122.5 L291.7 124.0 L291.8 125.5 M344.1 122.6 L344.2 121.1 L344.2 119.6 L344.3 118.1 L344.3 116.6 L344.4 115.1 L344.4 113.6 L344.5 112.1 L344.5 110.5 L344.6 109.0 L344.6 107.5 L344.7 106.0 L344.7 104.5 L344.8 103.0 L344.8 101.5 L344.9 100.0 L344.9 98.5 L345.0 97.0 L345.1 95.5 L345.2 94.0 L345.3 92.5 L345.5 91.0 L345.6 89.5 L345.8 88.0 L346.0 86.5 L346.3 85.0 L346.5 83.5 L346.8 82.0 L347.2 80.6 L347.6 79.1 L348.1 77.7 L348.6 76.3 L349.2 74.9 L349.9 73.6 L350.7 72.3 L351.5 71.0 L352.3 69.7 L353.2 68.5 L354.1 67.3 L355.0 66.1 L356.0 64.9 L357.0 63.9 L358.2 62.9 L359.6 62.3 L361.1 62.2 L362.4 62.8 L363.6 63.7 L364.6 64.8 L365.4 66.1 L366.1 67.4 L366.8 68.8 L367.5 70.1 L368.2 71.4 L368.8 72.8 L369.5 74.2 L370.1 75.6 L370.7 76.9 L371.3 78.3 L371.9 79.7 L372.4 81.1 L373.0 82.5 L373.5 83.9 L373.9 85.4 L374.3 86.8 L374.7 88.3 L375.0 89.8 L375.3 91.2 L375.6 92.7 L375.8 94.2 L376.0 95.7 L376.2 97.2 L376.4 98.7 L376.6 100.2 L376.8 101.7 L376.9 103.2 L377.1 104.7 L377.2 106.2 L377.3 107.7 L377.5 109.2 L377.6 110.7 L377.7 112.2"/>
<path stroke="#ffff00" d="M88.9 117.0 L89.0 115.5 L89.0 114.0 L89.1 112.5 L89.1 111.0 L89.2 109.5 L89.3 108.0 L89.3 106.4 L89.4 104.9 L89.5 103.4 L89.6 101.9 L89.7 100.4 L89.8 98.9 L89.9 97.4 L90.0 95.9 L90.1 94.4 L90.1 92.9 L90.2 91.4 L90.3 89.9 L90.4 88.4 L90.5 86.9 L90.6 85.4 L90.7 83.9 L90.8 82.3 L90.9 80.8 L91.1 79.3 L91.2 77.8 L91.4 76.3 L91.6 74.8 L91.8 73.3 L92.0 71.9 L92.3 70.4 L92.6 68.9 L92.9 67.4 L93.3 66.0 L93.7 64.5 L94.2 63.1 L94.7 61.7 L95.3 60.3 L95.9 58.9 L96.6 57.6 L97.4 56.2 L98.1 54.9 L98.9 53.6 L99.7 52.4 L100.6 51.2 L101.6 50.0 L102.6 48.9 L103.8 47.9 L105.0 47.1 L106.4 46.6 L107.9 46.6 L109.4 47.1 L110.7 47.8 L111.9 48.7 L113.0 49.7 L114.0 50.8 L114.9 52.0 L115.8 53.3 L116.4 54.6 L117.0 56.0 L117.5 57.5 L117.9 58.9 L118.3 60.4 L118.6 61.9 L118.9 63.3 L119.2 64.8 L119.5 66.3 L119.7 67.8 L120.0 69.3 L120.2 70.8 L120.4 72.2 L120.6 73.7 L120.8 75.2 L121.0 76.7 L121.2 78.2 L121.4 79.7 L121.5 81.2 L121.7 82.7 L121.8 84.2 L121.9 85.7 L122.0 87.2 L122.2 88.8 L122.3 90.3 L122.4 91.8 L122.5 93.3 L122.6 94.8 L122.7 96.3 L122.8 97.8 L122.9 99.3 L122.9 100.8 L123.0 102.3 L123.1 103.8 L123.2 105.3 L123.2 106.8 L123.3 108.3 L123.4 109.8 L123.4 111.4 L123.5 112.9 L123.6 114.4 L123.6 115.9 L123.7 117.4 L123.7 118.9 L123.8 120.4 M176.5 121.0 L176.6 119.5 L176.6 118.0 L176.7 116.5 L176.7 115.0 L176.8 113.5 L176.8 112.0 L176.9 110.5 L176.9 109.0 L177.0 107.5 L177.1 106.0 L177.1 104.5 L177.2 103.0 L177.3 101.5 L177.3 100.0 L177.4 98.5 L177.5 97.0 L177.6 95.5 L177.7 94.0 L177.8 92.5 L177.9 91.0 L178.1 89.5 L178.2 88.0 L178.4 86.5 L178.5 85.0 L178.7 83.5 L178.9 82.1 L179.1 80.6 L179.2 79.1 L179.4 77.6 L179.6 76.1 L179.8 74.6 L180.0 73.1 L180.2 71.6 L180.4 70.1 L180.6 68.7 L180.9 67.2 L181.2 65.7 L181.6 64.3 L182.0 62.8 L182.5 61.4 L183.0 60.0 L183.6 58.6 L184.2 57.2 L184.8 55.8 L185.4 54.5 L186.1 53.1 L186.8 51.8 L187.6 50.6 L188.5 49.3 L189.5 48.2 L190.5 47.1 L191.7 46.1 L192.8 45.2 L194.0 44.2 L195.2 43.3 L196.4 42.4 L197.6 41.5 L198.8 40.6 L200.0 39.7 L201.2 38.9 L202.5 38.1 L203.7 37.3 L205.0 36.5 L206.4 35.8 L207.8 35.2 L209.2 34.7 L210.6 34.2 L212.0 33.7 L213.4 33.3 L214.9 32.9 L216.4 32.6 L217.8 32.3 L219.3 32.0 L220.8 31.8 L222.3 31.5 L223.8 31.3 L225.3 31.2 L226.8 31.0 L228.2 30.9 L229.7 30.9 L231.2 30.8 L232.8 30.8 L234.3 30.9 L235.8 30.9 L237.2 31.0 L238.7 31.2 L240.2 31.3 L241.7 31.5 L243.2 31.8 L244.7 32.0 L246.2 32.3 L247.6 32.6 L249.1 32.9 L250.6 33.3 L252.0 33.7 L253.4 34.2 L254.8 34.7 L256.2 35.2 L257.6 35.8 L259.0 36.5 L260.3 37.3 L261.5 38.1 L262.8 38.9 L264.0 39.7 L265.2 40.6 L266.4 41.5 L267.6 42.4 L268.8 43.3 L270.0 44.2 L271.2 45.2 L272.3 46.1 L273.5 47.1 L274.5 48.2 L275.5 49.3 L276.4 50.6 L277.2 51.8 L277.9 53.1 L278.6 54.5 L279.2 55.8 L279.8 57.2 L280.4 58.6 L281.0 60.0 L281.5 61.4 L282.0 62.8 L282.4 64.3 L282.8 65.7 L283.1 67.2 L283.4 68.7 L283.6 70.1 L283.8 71.6 L284.0 73.1 L284.2 74.6 L284.4 76.1 L284.6 77.6 L284.8 79.1 L284.9 80.6 L285.1 82.1 L285.3 83.5 L285.5 85.0 L285.6 86.5 L285.8 88.0 L285.9 89.5 L286.1 91.0 L286.2 92.5 L286.3 94.0 L286.4 95.5 L286.5 97.0 L286.6 98.5 L286.7 100.0 L286.7 101.5 L286.8 103.0 L286.9 104.5 L286.9 106.0 L287.0 107.5 L287.1 109.0 L287.1 110.5 L287.2 112.0 L287.2 113.5 L287.3 115.0 L287.3 116.5 L287.4 118.0 L287.4 119.5 L287.5 121.0 M340.2 120.4 L340.3 118.9 L340.3 117.4 L340.4 115.9 L340.4 114.4 L340.5 112.9 L340.6 111.4 L340.6 109.8 L340.7 108.3 L340.8 106.8 L340.8 105.3 L340.9 103.8 L341.0 102.3 L341.1 100.8 L341.1 99.3 L341.2 97.8 L341.3 96.3 L341.4 94.8 L341.5 93.3 L341.6 91.8 L341.7 90.3 L341.8 88.8 L342.0 87.2 L342.1 85.7 L342.2 84.2 L342.3 82.7 L342.5 81.2 L342.6 79.7 L342.8 78.2 L343.0 76.7 L343.2 75.2 L343.4 73.7 L343.6 72.2 L343.8 70.8 L344.0 69.3 L344.3 67.8 L344.5 66.3 L344.8 64.8 L345.1 63.3 L345.4 61.9 L345.7 60.4 L346.1 58.9 L346.5 57.5 L347.0 56.0 L347.6 54.6 L348.2 53.3 L349.1 52.0 L350.0 50.8 L351.0 49.7 L352.1 48.7 L353.3 47.8 L354.6 47.1 L356.1 46.6 L357.6 46.6 L359.0 47.1 L360.2 47.9 L361.4 48.9 L362.4 50.0 L363.4 51.2 L364.3 52.4 L365.1 53.6 L365.9 54.9 L366.6 56.2 L367.4 57.6 L368.1 58.9 L368.7 60.3 L369.3 61.7 L369.8 63.1 L370.3 64.5 L370.7 66.0 L371.1 67.4 L371.4 68.9 L371.7 70.4 L372.0 71.9 L372.2 73.3 L372.4 74.8 L372.6 76.3 L372.8 77.8 L372.9 79.3 L373.1 80.8 L373.2 82.3 L373.3 83.9 L373.4 85.4 L373.5 86.9 L373.6 88.4 L373.7 89.9 L373.8 91.4 L373.9 92.9 L373.9 94.4 L374.0 95.9 L374.1 97.4 L374.2 98.9 L374.3 100.4 L374.4 101.9 L374.5 103.4 L374.6 104.9 L374.7 106.4 L374.7 108.0 L374.8 109.5 L374.9 111.0 L374.9 112.5 L375.0 114.0 L375.0 115.5 L375.1 117.0"/>
<path stroke="#827f00" d="M92.8 81.3 L92.9 79.8 L92.9 78.3 L93.0 76.8 L93.0 75.3 L93.1 73.8 L93.2 72.3 L93.3 70.8 L93.4 69.3 L93.6 67.8 L93.8 66.3 L94.0 64.8 L94.2 63.4 L94.4 61.9 L94.7 60.4 L95.0 58.9 L95.4 57.5 L95.8 56.0 L96.3 54.6 L96.8 53.2 L97.4 51.8 L98.1 50.5 L98.8 49.2 L99.6 47.9 L100.3 46.6 L101.0 45.3 L101.8 43.9 L102.5 42.6 L103.3 41.4 L104.3 40.2 L105.3 39.2 L106.6 38.3 L108.0 37.8 L109.4 37.5 L110.9 37.5 L112.4 37.9 L113.7 38.5 L114.9 39.4 L116.0 40.4 L116.9 41.7 L117.7 42.9 L118.4 44.2 L119.1 45.6 L119.7 46.9 L120.4 48.3 L121.0 49.7 L121.5 51.1 L122.1 52.5 L122.5 53.9 L123.0 55.3 L123.4 56.7 L123.8 58.2 L124.2 59.7 L124.5 61.1 L124.8 62.6 L125.1 64.1 L125.4 65.5 L125.6 67.0 L125.8 68.5 L126.0 70.0 L126.1 71.5 L126.3 73.0 L126.4 74.5 L126.5 76.0 L126.6 77.5 L126.7 79.0 L126.8 80.5 L126.9 82.0 L126.9 83.5 L127.0 85.0 L127.0 86.5 L127.1 88.0 L127.1 89.5 L127.2 91.0 L127.2 92.5 L127.2 94.0 L127.3 95.5 L127.3 97.0 L127.3 98.5 L127.4 100.0 L127.4 101.5 L127.4 103.0 L127.5 104.5 L127.5 106.0 L127.5 107.5 L127.6 109.0 L127.6 110.5 L127.6 112.0 L127.7 113.5 L127.7 115.0 L127.7 116.5 L127.8 118.0 L127.8 119.5 L127.8 121.0 L127.8 122.5 L127.9 124.0 L127.9 125.5 L127.9 127.0 L127.9 128.5 L128.0 130.0 L128.0 131.5 L128.0 133.0 L128.0 134.5 L128.0 136.0 L128.0 137.5 L128.0 139.0 L128.0 140.5 L128.0 142.0 L128.1 143.5 L128.1 145.0 L128.1 146.5 L128.1 148.0 L128.1 149.5 L128.1 151.0 L128.1 152.5 L128.1 154.0 M183.5 82.3 L183.6 80.8 L183.7 79.3 L183.7 77.8 L183.8 76.3 L183.9 74.8 L183.9 73.3 L184.0 71.8 L184.1 70.3 L184.3 68.8 L184.5 67.3 L184.8 65.9 L185.2 64.4 L185.6 63.0 L186.1 61.6 L186.6 60.1 L187.1 58.7 L187.6 57.3 L188.1 55.9 L188.6 54.5 L189.1 53.0 L189.6 51.6 L190.1 50.2 L190.7 48.8 L191.3 47.5 L192.1 46.2 L192.8 44.9 L193.6 43.6 L194.5 42.4 L195.4 41.2 L196.3 40.0 L197.3 38.9 L198.4 37.9 L199.5 36.9 L200.7 35.9 L201.8 34.9 L203.0 34.0 L204.2 33.1 L205.4 32.2 L206.7 31.4 L208.0 30.7 L209.4 30.1 L210.8 29.5 L212.2 28.9 L213.6 28.4 L215.0 27.9 L216.4 27.4 L217.9 27.1 L219.3 26.7 L220.8 26.4 L222.3 26.2 L223.8 26.0 L225.3 25.8 L226.8 25.6 L228.3 25.5 L229.8 25.4 L231.3 25.3 L232.7 25.3 L234.2 25.4 L235.7 25.5 L237.2 25.6 L238.7 25.8 L240.2 26.0 L241.7 26.2 L243.2 26.4 L244.7 26.7 L246.1 27.1 L247.6 27.4 L249.0 27.9 L250.4 28.4 L251.8 28.9 L253.2 29.5 L254.6 30.1 L256.0 30.7 L257.3 31.4 L258.6 32.2 L259.8 33.1 L261.0 34.0 L262.2 34.9 L263.3 35.9 L264.5 36.9 L265.6 37.9 L266.7 38.9 L267.7 40.0 L268.6 41.2 L269.5 42.4 L270.4 43.6 L271.2 44.9 L271.9 46.2 L272.7 47.5 L273.3 48.8 L273.9 50.2 L274.4 51.6 L274.9 53.0 L275.4 54.5 L275.9 55.9 L276.4 57.3 L276.9 58.7 L277.4 60.1 L277.9 61.6 L278.4 63.0 L278.8 64.4 L279.2 65.9 L279.5 67.3 L279.7 68.8 L279.9 70.3 L280.0 71.8 L280.1 73.3 L280.1 74.8 L280.2 76.3 L280.3 77.8 L280.3 79.3 L280.4 80.8 L280.5 82.3 M336.0 157.6 L336.0 156.1 L335.9 154.6 L335.9 153.1 L335.9 151.6 L335.9 150.1 L335.9 148.6 L335.9 147.1 L335.9 145.6 L335.9 144.0 L335.9 142.5 L336.0 141.0 L336.0 139.5 L336.0 138.0 L336.0 136.5 L336.0 135.0 L336.0 133.5 L336.0 132.0 L336.0 130.5 L336.1 129.0 L336.1 127.5 L336.1 126.0 L336.1 124.5 L336.1 123.0 L336.2 121.5 L336.2 120.0 L336.2 118.4 L336.3 116.9 L336.3 115.4 L336.3 113.9 L336.4 112.4 L336.4 110.9 L336.4 109.4 L336.5 107.9 L336.5 106.4 L336.5 104.9 L336.6 103.4 L336.6 101.9 L336.6 100.4 L336.7 98.9 L336.7 97.4 L336.7 95.9 L336.8 94.4 L336.8 92.8 L336.8 91.3 L336.9 89.8 L336.9 88.3 L336.9 86.8 L337.0 85.3 L337.0 83.8 L337.1 82.3 L337.2 80.8 L337.2 79.3 L337.3 77.8 L337.4 76.3 L337.5 74.8 L337.7 73.3 L337.8 71.8 L338.0 70.3 L338.2 68.8 L338.4 67.3 L338.6 65.8 L338.9 64.3 L339.1 62.9 L339.4 61.4 L339.8 59.9 L340.1 58.4 L340.5 57.0 L340.9 55.5 L341.4 54.1 L341.9 52.7 L342.4 51.3 L342.9 49.9 L343.5 48.5 L344.2 47.1 L344.8 45.8 L345.5 44.4 L346.2 43.1 L347.0 41.8 L347.9 40.6 L348.9 39.5 L350.1 38.6 L351.5 37.9 L352.9 37.5 L354.4 37.5 L355.9 37.7 L357.3 38.3 L358.5 39.1 L359.7 40.1 L360.6 41.3 L361.4 42.5 L362.2 43.8 L362.9 45.1 L363.6 46.5 L364.4 47.8 L365.1 49.1 L365.8 50.4 L366.5 51.8 L367.1 53.1 L367.7 54.5 L368.2 55.9 L368.6 57.4 L369.0 58.9 L369.3 60.3 L369.6 61.8 L369.8 63.3 L370.0 64.8 L370.2 66.3 L370.4 67.8 L370.6 69.3 L370.7 70.8 L370.8 72.3 L370.9 73.8 L371.0 75.3 L371.0 76.8 L371.1 78.3 L371.1 79.8 L371.2 81.3"/>
</g>
<rect x="142.7" y="175.5" width="179.5" height="33.5" fill="#fff" stroke="#000" stroke-width="1.1"/>
<line x1="145.3" y1="182" x2="163.1" y2="182" stroke="#ff0000" stroke-width="4.2" stroke-linecap="round"/>
<line x1="195.2" y1="182" x2="213.4" y2="182" stroke="#000000" stroke-width="4.2" stroke-linecap="round"/>
<line x1="246.1" y1="182" x2="263.6" y2="182" stroke="#007f00" stroke-width="4.2" stroke-linecap="round"/>
<line x1="145.3" y1="192.6" x2="163.1" y2="192.6" stroke="#00ff00" stroke-width="4.2" stroke-linecap="round"/>
<line x1="199.9" y1="192.6" x2="217.6" y2="192.6" stroke="#0000ff" stroke-width="4.2" stroke-linecap="round"/>
<line x1="255.1" y1="192.6" x2="273.3" y2="192.6" stroke="#00ffff" stroke-width="4.2" stroke-linecap="round"/>
<line x1="145.3" y1="203.2" x2="163.1" y2="203.2" stroke="#ff00ff" stroke-width="4.2" stroke-linecap="round"/>
<line x1="204.2" y1="203.2" x2="222.5" y2="203.2" stroke="#ffff00" stroke-width="4.2" stroke-linecap="round"/>
<line x1="263.7" y1="203.2" x2="282.4" y2="203.2" stroke="#827f00" stroke-width="4.2" stroke-linecap="round"/>
<g style="filter:grayscale(1)">
<text x="166.1" y="185.05" font-size="8.3">OD = 1</text>
<text x="216.2" y="185.05" font-size="8.3">OD = 2</text>
<text x="266.5" y="185.05" font-size="8.3">OD = 5</text>
<text x="166.1" y="195.65" font-size="8.3">OD = 10</text>
<text x="220.6" y="195.65" font-size="8.3">OD = 20</text>
<text x="276.1" y="195.65" font-size="8.3">OD = 50</text>
<text x="166.1" y="206.25" font-size="8.3">OD = 100</text>
<text x="225.5" y="206.25" font-size="8.3">OD = 200</text>
<text x="285.2" y="206.25" font-size="8.3">OD = 300</text>
<g transform="translate(66.21 18) scale(1.07 1)"><path d="M-2.53 0.00 L-3.74 0.00 L-3.74 -7.73 L-4.30 -7.24 L-5.18 -6.67 L-6.17 -6.20 L-6.17 -7.37 L-4.98 -8.02 L-4.03 -8.83 L-3.31 -9.92 L-2.53 -9.92Z"/></g>
<g transform="translate(66.21 69.7) scale(1.07 1)"><text x="-19.18" y="0" font-size="13.8" letter-spacing="0">0.</text><path d="M-2.53 0.00 L-3.74 0.00 L-3.74 -7.73 L-4.30 -7.24 L-5.18 -6.67 L-6.17 -6.20 L-6.17 -7.37 L-4.98 -8.02 L-4.03 -8.83 L-3.31 -9.92 L-2.53 -9.92Z"/></g>
<g transform="translate(66.21 120.6) scale(1.07 1)"><text x="-26.85" y="0" font-size="13.8" letter-spacing="0">0.0</text><path d="M-2.53 0.00 L-3.74 0.00 L-3.74 -7.73 L-4.30 -7.24 L-5.18 -6.67 L-6.17 -6.20 L-6.17 -7.37 L-4.98 -8.02 L-4.03 -8.83 L-3.31 -9.92 L-2.53 -9.92Z"/></g>
<g transform="translate(66.21 171.5) scale(1.07 1)"><text x="-34.53" y="0" font-size="13.8" letter-spacing="0">0.00</text><path d="M-2.53 0.00 L-3.74 0.00 L-3.74 -7.73 L-4.30 -7.24 L-5.18 -6.67 L-6.17 -6.20 L-6.17 -7.37 L-4.98 -8.02 L-4.03 -8.83 L-3.31 -9.92 L-2.53 -9.92Z"/></g>
<g transform="translate(98.3 243.9) scale(1.07 1)"><text x="-15.98" y="0" font-size="19.0" letter-spacing="-0.26">-</text><path d="M-2.83 0.00 L-4.50 0.00 L-4.50 -10.64 L-5.27 -9.97 L-6.48 -9.18 L-7.84 -8.54 L-7.84 -10.15 L-6.20 -11.04 L-4.90 -12.15 L-3.91 -13.66 L-2.83 -13.66Z"/><text x="0.39" y="0" font-size="19.0" letter-spacing="-0.26">.0</text></g>
<g transform="translate(165.3 243.9) scale(1.07 1)"><text x="-15.98" y="0" font-size="19.0" letter-spacing="-0.26">-0.5</text></g>
<g transform="translate(232.3 243.9) scale(1.07 1)"><text x="-12.95" y="0" font-size="19.0" letter-spacing="-0.26">0.0</text></g>
<g transform="translate(299.3 243.9) scale(1.07 1)"><text x="-12.95" y="0" font-size="19.0" letter-spacing="-0.26">0.5</text></g>
<g transform="translate(366.3 243.9) scale(1.07 1)"><path d="M-5.87 0.00 L-7.54 0.00 L-7.54 -10.64 L-8.31 -9.97 L-9.51 -9.18 L-10.88 -8.54 L-10.88 -10.15 L-9.23 -11.04 L-7.94 -12.15 L-6.94 -13.66 L-5.87 -13.66Z"/><text x="-2.64" y="0" font-size="19.0" letter-spacing="-0.26">.0</text></g>
<text transform="translate(32.3 25.8) scale(1.05 1)" font-size="15.8" font-weight="bold">(b)</text>
<text transform="translate(22.6 221.4) rotate(-90)" font-size="18" textLength="210.6" lengthAdjust="spacingAndGlyphs">&#916;P ~ interaction strength</text>
<text y="267.1" font-size="22.3"><tspan x="204">x</tspan><tspan x="223.2">(</tspan><tspan class="ser" font-size="24" x="230.6">&#923;</tspan><tspan x="248.0">)</tspan></text>
</g>
</svg></body></html>
